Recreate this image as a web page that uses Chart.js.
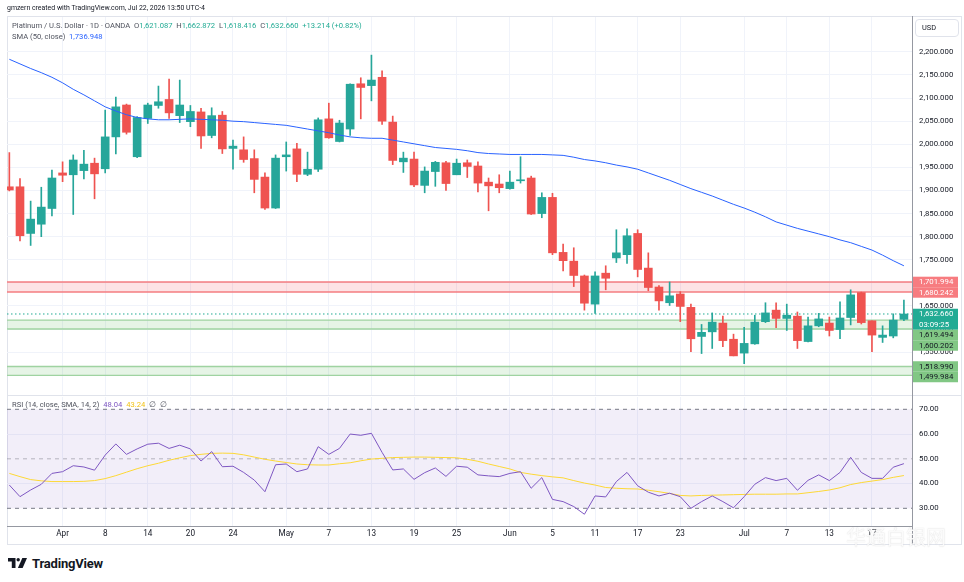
<!DOCTYPE html>
<html lang="en">
<head>
<meta charset="utf-8">
<title>Platinum / U.S. Dollar · 1D · OANDA</title>
<script src="https://cdn.jsdelivr.net/npm/chart.js@4.4.1/dist/chart.umd.min.js"></script>
<style>
  body { margin: 0; background: #fff; }
  #wrap { position: relative; width: 964px; height: 582px; overflow: hidden; font-family: Roboto, 'Liberation Sans', sans-serif; color: #131722; }
  canvas { position: absolute; left: 0; }
  #priceCanvas { top: 0; }
  #rsiCanvas { top: 396px; }
  .t { position: absolute; white-space: nowrap; line-height: 1; }
  .v { color: #22ab94; }
  .line { position: absolute; background: #e0e3eb; }
</style>
</head>
<body>
<div id="wrap">
  <div class="line" style="left:7px;top:16px;width:955px;height:1px;"></div>
  <div class="line" style="left:7px;top:16px;width:1px;height:529px;"></div>
  <div class="line" style="left:961px;top:16px;width:1px;height:529px;"></div>
  <div class="line" style="left:7px;top:544px;width:955px;height:1px;"></div>

  <canvas id="priceCanvas" width="964" height="396"></canvas>
  <canvas id="rsiCanvas" width="964" height="150"></canvas>

  <div class="line" style="left:7px;top:395px;width:955px;height:1px;"></div>
  <div class="line" style="left:912px;top:16px;width:1px;height:529px;background:#9598a1;"></div>

  <div class="t" style="left:7px;top:5px;font-size:6.95px;">gmzern created with TradingView.com, Jul 22, 2026 13:50 UTC-4</div>
  <div class="t" id="legendMain" style="left:12px;top:22px;font-size:7.6px;color:#50535e;"></div>
  <div class="t" id="legendSma" style="left:12px;top:33px;font-size:7.6px;color:#50535e;"></div>
  <div class="t" id="legendRsi" style="left:12px;top:401px;font-size:7.6px;color:#50535e;"></div>

  <div class="t" style="left:915px;top:19px;width:44px;height:18px;box-sizing:border-box;border:1px solid #e0e3eb;border-radius:4px;font-size:7.4px;line-height:16px;padding-left:6px;">USD</div>

  <svg style="position:absolute;left:8px;top:558px;" width="19" height="10" viewBox="0 0 19 10">
    <path d="M0 0H7.5V10H3.8V3.4H0Z" fill="#131722"/>
    <circle cx="10.2" cy="1.7" r="1.7" fill="#131722"/>
    <path d="M14.3 0H19L14.6 10H9.9Z" fill="#131722"/>
  </svg>
  <div class="t" style="left:32px;top:557px;font-size:13px;font-weight:700;letter-spacing:-0.2px;">TradingView</div>

  <div class="t" style="left:846px;top:527px;font-size:20px;font-family:'Noto Sans CJK SC';color:rgba(255,255,255,0.9);text-shadow:0 0 1px rgba(120,120,120,0.35);">华通白银网</div>
</div>

<script>
'use strict';

// trading days shown on the chart (2026)
const dates = [
  '03-25','03-26','03-27','03-30','03-31',
  '04-01','04-02','04-06','04-07','04-08','04-09','04-10','04-13','04-14','04-15','04-16','04-17','04-20','04-21','04-22','04-23','04-24','04-27','04-28','04-29','04-30',
  '05-01','05-04','05-05','05-06','05-07','05-08','05-11','05-12','05-13','05-14','05-15','05-18','05-19','05-20','05-21','05-22','05-25','05-26','05-27','05-28','05-29',
  '06-01','06-02','06-03','06-04','06-05','06-08','06-09','06-10','06-11','06-12','06-15','06-16','06-17','06-18','06-19','06-22','06-23','06-24','06-25','06-26','06-29','06-30',
  '07-01','07-02','07-03','07-06','07-07','07-08','07-09','07-10','07-13','07-14','07-15','07-16','07-17','07-20','07-21','07-22'
];

// OHLC
const opens = [
  1908,1908,1807,1827,1861,1938,1934,1943,1959,1947,2016,2085,1973,2056,2084,2097,2062,2049,2070,2019,
  2063,1991,1988,1969,1929,1862,1973,1990,1935,1946,2055,2006,2033,2131,2127,2145,2048,1962,1968,1911,
  1941,1960,1934,1960,1953,1918,1914,1904,1921,1927,1850,1885,1766,1747,1715,1654,1721,1754,1761,1807,
  1732,1691,1657,1676,1647,1584,1594,1613,1578,1548,1568,1616,1641,1623,1628,1573,1607,1613,1599,1625,
  1679,1618,1582,1585,1621.087
];
const highs = [
  1982,1926,1877,1907,1944,1962,1977,1987,1970,2074,2102,2087,2060,2089,2126,2141,2139,2084,2078,2079,
  2071,2009,2016,1988,1938,1977,2005,2002,1983,2057,2089,2052,2131,2144,2193,2159,2061,1983,1983,1951,
  1963,1963,1968,1966,1962,1927,1934,1942,1973,1931,1895,1894,1784,1776,1717,1724,1737,1815,1817,1815,
  1765,1694,1702,1681,1654,1610,1635,1628,1589,1604,1630,1657,1657,1654,1637,1626,1634,1626,1659,1685,
  1680,1618,1607,1633,1662.872
];
const lows = [
  1899,1791,1781,1800,1845,1919,1848,1925,1882,1938,1979,2022,1971,2045,2078,2056,2047,2038,1991,2014,
  1980,1946,1961,1895,1859,1861,1942,1919,1932,1941,2013,2005,2019,2055,2094,2043,1956,1939,1908,1895,
  1909,1900,1934,1928,1897,1856,1895,1903,1916,1848,1841,1761,1726,1692,1641,1634,1685,1744,1742,1713,
  1683,1641,1651,1616,1551,1547,1558,1562,1542,1525,1567,1614,1603,1597,1558,1572,1605,1585,1579,1609,
  1611,1551,1571,1581,1618.416
];
const closes = [
  1901,1802,1838,1864,1927,1933,1966,1957,1936,2016,2081,2026,2058,2085,2092,2068,2085,2071,2018,2062,
  1990,1996,1967,1924,1862,1970,1977,1935,1946,2053,2014,2046,2130,2123,2139,2050,1965,1970,1912,1942,
  1961,1915,1959,1952,1916,1910,1906,1918,1923,1849,1885,1765,1748,1716,1656,1715,1710,1765,1802,1729,
  1690,1661,1672,1649,1579,1593,1615,1575,1542,1569,1615,1635,1623,1630,1575,1607,1622,1597,1624,1674,
  1614,1587,1587,1619.446,1632.66
];

// SMA (50, close)
const sma50 = [
  2184,2174,2164,2155,2145,2133,2119,2107,2094,2081,2072,2064,2058,2055,2053,2053,2054,2055,2054,2053,
  2052,2050,2049,2047,2045,2043,2041,2037,2033,2029,2025,2020,2016,2014,2013,2013,2009,2005,2001,1997,
  1993,1991,1989,1986,1982,1980,1979,1978,1978,1978,1978,1977,1976,1972,1967,1964,1960,1955,1951,1946,
  1938,1930,1922,1913,1904,1896,1888,1879,1870,1862,1853,1843,1832,1825,1818,1812,1806,1800,1793,1787,
  1779,1771,1760,1748,1736.948
];

// RSI (14) and its SMA (14)
const rsi = [
  39.4,34.7,37.4,39.7,44.1,44.8,47.2,46.7,45.4,51.5,56.0,51.8,54.0,55.9,56.3,54.2,55.5,54.0,49.1,52.9,
  46.8,47.0,44.5,41.4,36.7,47.6,47.9,44.8,45.9,54.9,51.8,54.2,60.0,59.5,60.3,52.6,45.5,45.9,41.7,44.4,
  46.3,42.9,47.0,46.6,43.5,43.1,42.8,44.1,44.8,38.1,42.4,33.6,32.7,30.7,27.6,35.0,34.6,40.8,44.5,39.1,
  36.5,35.0,36.1,34.7,30.0,32.7,35.0,32.7,30.2,34.7,39.7,42.4,41.2,42.1,37.3,41.3,43.5,41.2,44.5,50.6,
  44.5,42.1,42.1,46.6,48.04
];
const rsiMa = [
  44.1,42.8,41.6,41.1,40.8,40.8,40.8,40.9,41.2,42.0,43.2,44.6,46.0,47.2,48.2,49.4,50.4,51.3,51.8,52.2,
  52.3,52.2,51.6,50.7,49.8,49.1,48.5,47.9,47.6,47.5,47.5,48.0,48.4,49.2,49.9,50.2,50.5,50.6,50.7,50.7,
  50.6,50.5,50.4,49.8,49.0,47.9,46.9,45.9,44.5,43.8,43.2,42.7,42.3,41.2,40.2,39.4,38.4,38.1,37.9,37.8,
  37.3,36.7,36.0,35.2,35.0,35.2,35.3,35.4,35.5,35.6,35.7,35.7,35.7,35.8,35.8,36.3,36.8,37.4,38.3,39.6,
  40.4,41.0,41.6,42.5,43.24
];

// axis ticks
const priceTicks = [1500,1550,1600,1650,1700,1750,1800,1850,1900,1950,2000,2050,2100,2150,2200];
const rsiTicks = [30,40,50,60,70];
const tickDates = ['04-01','04-08','04-14','04-20','04-24','05-01','05-07','05-13','05-19','05-25','06-01','06-05','06-11','06-17','06-23','07-01','07-07','07-13','07-17'];
const monthNames = { '04': 'Apr', '05': 'May', '06': 'Jun', '07': 'Jul' };

// drawn zones
const zoneTop = [1701.994, 1619.494, 1518.990];
const zoneBottom = [1680.242, 1600.202, 1499.984];
const zoneType = ['resistance', 'support', 'support'];

const rsiUpper = 70, rsiMid = 50, rsiLower = 30;
const countdown = '03:09:25';

const UP = '#26a69a', DOWN = '#ef5350';
const xMin = -0.22, xMax = 84.76;
const axisFont = { family: 'Roboto', size: 7.8 };

const tickIdx = tickDates.map(d => dates.indexOf(d));
const candleColor = opens.map((o, i) => closes[i] >= o ? UP : DOWN);

function tickText(i) {
  const d = dates[Math.round(i)];
  if (!d) return '';
  const [m, day] = d.split('-');
  return day === '01' ? monthNames[m] : String(+day);
}
function fmtPrice(v) {
  return v.toLocaleString('en-US', { minimumFractionDigits: 3, maximumFractionDigits: 3 });
}
const fixY = w => s => { s.width = w; s.paddingTop = 0; s.paddingBottom = 0; };
const fixX = h => s => { s.height = h; s.paddingLeft = 0; s.paddingRight = 0; };

// legends
const last = closes.length - 1;
const chg = closes[last] - closes[last - 1];
document.getElementById('legendMain').innerHTML =
  'Platinum / U.S. Dollar · 1D · OANDA&nbsp; O<span class="v">' + fmtPrice(opens[last]) +
  '</span>&nbsp; H<span class="v">' + fmtPrice(highs[last]) +
  '</span>&nbsp; L<span class="v">' + fmtPrice(lows[last]) +
  '</span>&nbsp; C<span class="v">' + fmtPrice(closes[last]) +
  '</span>&nbsp; <span class="v">+' + fmtPrice(chg) + ' (+' + (chg / closes[last - 1] * 100).toFixed(2) + '%)</span>';
document.getElementById('legendSma').innerHTML =
  'SMA (50, close)&nbsp; <span style="color:#2962ff">' + fmtPrice(sma50[last]) + '</span>';
document.getElementById('legendRsi').innerHTML =
  'RSI (14, close, SMA, 14, 2)&nbsp; <span style="color:#7e57c2">' + rsi[last].toFixed(2) +
  '</span>&nbsp; <span style="color:#f2c318">' + rsiMa[last].toFixed(2) + '</span>&nbsp; ∅&nbsp; ∅';

// zones, last price line and the coloured price labels
const pricePlugin = {
  id: 'pricePlugin',
  beforeDatasetsDraw(chart) {
    const { ctx, chartArea: a, scales: { y } } = chart;
    ctx.save();
    for (let k = 0; k < zoneTop.length; k++) {
      const y1 = y.getPixelForValue(zoneTop[k]);
      const y2 = y.getPixelForValue(zoneBottom[k]);
      const res = zoneType[k] === 'resistance';
      ctx.fillStyle = res ? 'rgba(242,54,69,0.14)' : 'rgba(76,175,80,0.14)';
      ctx.fillRect(a.left, y1, a.right - a.left, y2 - y1);
      ctx.strokeStyle = res ? '#f47c80' : '#9fd3a1';
      ctx.lineWidth = res ? 1.6 : 1.3;
      [y1, y2].forEach(yy => {
        ctx.beginPath(); ctx.moveTo(a.left, yy); ctx.lineTo(a.right, yy); ctx.stroke();
      });
    }
    const yl = y.getPixelForValue(closes[last]);
    ctx.setLineDash([1.5, 2.5]);
    ctx.strokeStyle = '#22ab94';
    ctx.lineWidth = 1;
    ctx.beginPath(); ctx.moveTo(a.left, yl); ctx.lineTo(a.right, yl); ctx.stroke();
    ctx.restore();
  },
  afterDraw(chart) {
    const { ctx, chartArea: a, scales: { y } } = chart;
    const items = [];
    zoneTop.forEach((top, k) => {
      const res = zoneType[k] === 'resistance';
      const bg = res ? '#f77c80' : '#81c784';
      const fg = res ? '#ffffff' : '#131722';
      items.push({ y: y.getPixelForValue(top), lines: [fmtPrice(top)], bg, fg });
      items.push({ y: y.getPixelForValue(zoneBottom[k]), lines: [fmtPrice(zoneBottom[k])], bg, fg });
    });
    items.push({ y: y.getPixelForValue(closes[last]), lines: [fmtPrice(closes[last]), countdown], bg: '#22ab94', fg: '#ffffff', fixed: true });
    items.sort((p, q) => p.y - q.y);
    const lh = 10.5;
    let prevBottom = -Infinity;
    ctx.save();
    ctx.font = '7.8px Roboto';
    ctx.textBaseline = 'middle';
    items.forEach(it => {
      let top = it.y - lh / 2;
      if (!it.fixed) top = Math.max(top, prevBottom);
      const h = lh * it.lines.length;
      ctx.fillStyle = it.bg;
      ctx.fillRect(a.right + 1, top, 45, h);
      ctx.fillStyle = it.fg;
      it.lines.forEach((s, j) => ctx.fillText(s, a.right + 7, top + lh / 2 + j * lh + 0.5));
      prevBottom = top + h;
    });
    ctx.restore();
  }
};

new Chart(document.getElementById('priceCanvas'), {
  type: 'bar',
  data: {
    datasets: [
      { type: 'line', data: sma50.map((v, i) => ({ x: i, y: v })), borderColor: '#2962ff', borderWidth: 1, pointRadius: 0, tension: 0, order: 0 },
      { data: opens.map((o, i) => ({ x: i, y: [o, closes[i]] })), backgroundColor: candleColor, barThickness: 8, minBarLength: 1, grouped: false, order: 1 },
      { data: lows.map((l, i) => ({ x: i, y: [l, highs[i]] })), backgroundColor: candleColor, barThickness: 1, grouped: false, order: 2 }
    ]
  },
  options: {
    responsive: false,
    animation: false,
    events: [],
    layout: { padding: { left: 7, top: 17, right: 0, bottom: 1 } },
    plugins: { legend: { display: false }, tooltip: { enabled: false } },
    scales: {
      x: {
        type: 'linear', min: xMin, max: xMax, offset: false,
        afterBuildTicks: s => { s.ticks = tickIdx.map(v => ({ value: v })); },
        afterFit: fixX(0),
        ticks: { display: false, autoSkip: false },
        grid: { color: '#f0f3fa', drawTicks: false, offset: false },
        border: { display: false }
      },
      y: {
        position: 'right', min: 1457.3, max: 2275.5,
        afterBuildTicks: s => { s.ticks = priceTicks.map(v => ({ value: v })); },
        afterFit: fixY(52),
        ticks: { callback: v => fmtPrice(v), color: '#131722', font: axisFont, padding: 7, autoSkip: false },
        grid: { color: '#f0f3fa', drawTicks: false },
        border: { display: false }
      }
    }
  },
  plugins: [pricePlugin]
});

// RSI band and reference lines
const rsiPlugin = {
  id: 'rsiPlugin',
  beforeDatasetsDraw(chart) {
    const { ctx, chartArea: a, scales: { y } } = chart;
    const yu = y.getPixelForValue(rsiUpper), ym = y.getPixelForValue(rsiMid), yd = y.getPixelForValue(rsiLower);
    ctx.save();
    ctx.fillStyle = 'rgba(126,87,194,0.1)';
    ctx.fillRect(a.left, yu, a.right - a.left, yd - yu);
    ctx.setLineDash([4, 4]);
    ctx.lineWidth = 1;
    [[yu, '#787b86'], [ym, 'rgba(120,123,134,0.5)'], [yd, '#787b86']].forEach(([yy, c]) => {
      ctx.strokeStyle = c;
      ctx.beginPath(); ctx.moveTo(a.left, yy); ctx.lineTo(a.right, yy); ctx.stroke();
    });
    ctx.restore();
  }
};

new Chart(document.getElementById('rsiCanvas'), {
  type: 'line',
  data: {
    datasets: [
      { data: rsi.map((v, i) => ({ x: i, y: v })), borderColor: '#7e57c2', borderWidth: 1, pointRadius: 0, tension: 0 },
      { data: rsiMa.map((v, i) => ({ x: i, y: v })), borderColor: '#fdd835', borderWidth: 1, pointRadius: 0, tension: 0 }
    ]
  },
  options: {
    responsive: false,
    animation: false,
    events: [],
    layout: { padding: { left: 7, top: 1, right: 0, bottom: 0 } },
    plugins: { legend: { display: false }, tooltip: { enabled: false } },
    scales: {
      x: {
        type: 'linear', min: xMin, max: xMax, offset: false,
        afterBuildTicks: s => { s.ticks = tickIdx.map(v => ({ value: v })); },
        afterFit: fixX(20),
        ticks: { callback: v => tickText(v), color: '#131722', font: { family: 'Roboto', size: 8.2 }, padding: 3, autoSkip: false, maxRotation: 0 },
        grid: { color: '#f0f3fa', drawTicks: false },
        border: { display: true, color: '#9598a1' }
      },
      y: {
        position: 'right', min: 22.85, max: 74.97,
        afterBuildTicks: s => { s.ticks = rsiTicks.map(v => ({ value: v })); },
        afterFit: fixY(52),
        ticks: { callback: v => v.toFixed(2), color: '#131722', font: axisFont, padding: 7, autoSkip: false },
        grid: { color: c => (c.tick && (c.tick.value === 40 || c.tick.value === 60)) ? '#f0f3fa' : 'rgba(0,0,0,0)', drawTicks: false },
        border: { display: false }
      }
    }
  },
  plugins: [rsiPlugin]
});
</script>
</body>
</html>
